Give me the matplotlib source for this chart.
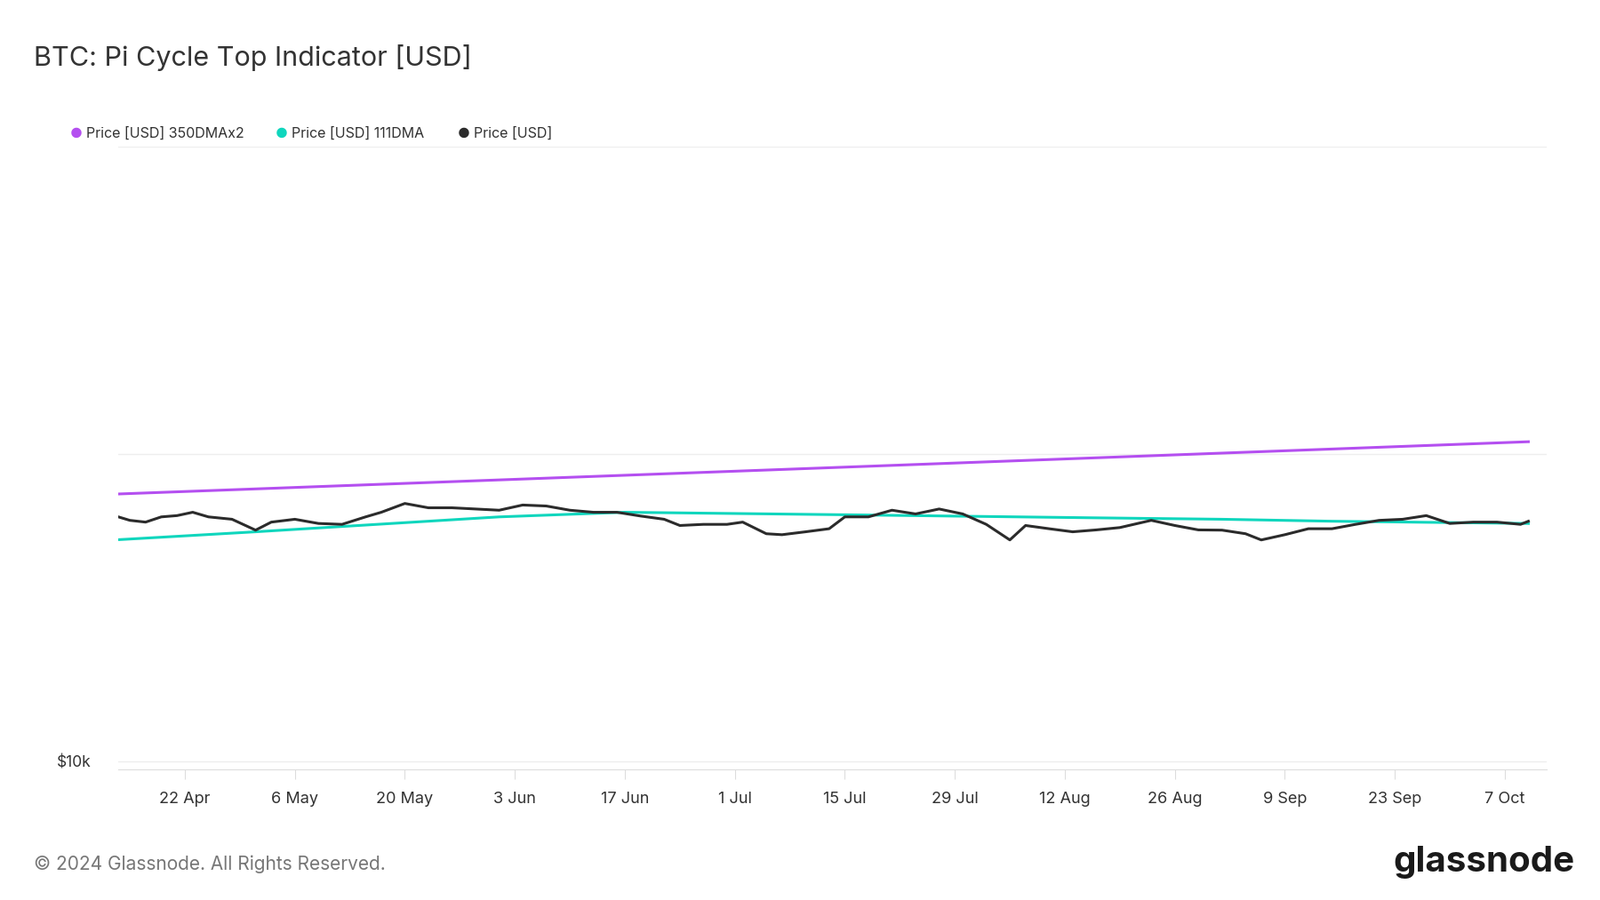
import numpy as np
import pandas as pd
import matplotlib.pyplot as plt
import matplotlib.dates as mdates

plt.rcParams['font.family'] = 'Inter'

# ── Data (USD thousands) ──
price_dates = ['2024-04-13', '2024-04-15', '2024-04-17', '2024-04-19', '2024-04-21', '2024-04-23',
               '2024-04-25', '2024-04-28', '2024-05-01', '2024-05-03', '2024-05-06', '2024-05-09',
               '2024-05-12', '2024-05-15', '2024-05-17', '2024-05-20', '2024-05-23', '2024-05-26',
               '2024-05-29', '2024-06-01', '2024-06-04', '2024-06-07', '2024-06-10', '2024-06-13',
               '2024-06-16', '2024-06-19', '2024-06-22', '2024-06-24', '2024-06-27', '2024-06-30',
               '2024-07-02', '2024-07-05', '2024-07-07', '2024-07-10', '2024-07-13', '2024-07-15',
               '2024-07-18', '2024-07-21', '2024-07-24', '2024-07-27', '2024-07-30', '2024-08-02',
               '2024-08-05', '2024-08-07', '2024-08-10', '2024-08-13', '2024-08-16', '2024-08-19',
               '2024-08-23', '2024-08-26', '2024-08-29', '2024-09-01', '2024-09-04', '2024-09-06',
               '2024-09-09', '2024-09-12', '2024-09-15', '2024-09-18', '2024-09-21', '2024-09-24',
               '2024-09-27', '2024-09-30', '2024-10-03', '2024-10-06', '2024-10-09', '2024-10-10']
price = [63.0, 60.8, 60.0, 62.4, 63.0, 64.6, 62.4, 61.3, 56.5, 60.0, 61.3, 59.4,
         59.0, 62.4, 64.6, 69.0, 66.8, 66.8, 66.2, 65.6, 68.2, 67.7, 65.6, 64.6,
         64.6, 62.8, 61.3, 58.5, 59.0, 59.0, 60.0, 55.0, 54.6, 55.8, 57.1, 62.4,
         62.4, 65.6, 63.8, 66.2, 63.8, 59.0, 52.5, 58.5, 57.1, 55.8, 56.6, 57.6,
         60.8, 58.5, 56.6, 56.5, 55.0, 52.5, 54.6, 57.1, 57.1, 59.0, 60.8, 61.3,
         63.0, 59.4, 60.0, 60.0, 59.0, 60.4]

dma111_dates = ['2024-04-13', '2024-05-01', '2024-06-01', '2024-06-17', '2024-07-15',
                '2024-08-15', '2024-09-01', '2024-09-15', '2024-10-10']
dma111 = [52.5, 55.8, 62.4, 64.6, 63.4, 62.0, 61.3, 60.4, 59.4]

dma350x2_dates = ['2024-04-13', '2024-07-12', '2024-10-10']
dma350x2 = [74.0, 90.0, 109.6]

PURPLE = '#b44ff0'
TEAL = '#0fd6bd'
DARK = '#2b2b2b'

fig = plt.figure(figsize=(18, 10.13), dpi=100)
ax = fig.add_axes([0.074, 0.145, 0.8925, 0.692])

def d(lst):
    return pd.to_datetime(lst)

ax.plot(d(dma350x2_dates), np.array(dma350x2) * 1000, color=PURPLE, lw=2.2)
ax.plot(d(dma111_dates), np.array(dma111) * 1000, color=TEAL, lw=2.2)
ax.plot(d(price_dates), np.array(price) * 1000, color=DARK, lw=2.2)

ax.set_yscale('log')
ax.set_ylim(10 ** 3.973, 1e6)
ax.set_xlim(pd.Timestamp('2024-04-13 13:00'), pd.Timestamp('2024-10-12 07:00'))
ax.set_yticks([1e4, 1e5, 1e6])
ax.set_yticklabels(['$10k', '', ''])
ax.yaxis.set_minor_locator(plt.NullLocator())
ax.grid(axis='y', color='#eeeeee', lw=1)
ax.tick_params(axis='y', length=0, labelsize=12.5, colors='#333333', pad=22)

ticks = pd.to_datetime(['2024-04-22', '2024-05-06', '2024-05-20', '2024-06-03', '2024-06-17',
                        '2024-07-01', '2024-07-15', '2024-07-29', '2024-08-12', '2024-08-26',
                        '2024-09-09', '2024-09-23', '2024-10-07'])
ax.set_xticks(ticks)
ax.xaxis.set_major_formatter(mdates.DateFormatter('%-d %b'))
ax.tick_params(axis='x', length=8, color='#dddddd', labelsize=13, colors='#333333', pad=10)
for s in ['top', 'right', 'left']:
    ax.spines[s].set_visible(False)
ax.spines['bottom'].set_color('#dddddd')

fig.text(0.021, 0.936, 'BTC: Pi Cycle Top Indicator [USD]', fontsize=22, color='#333333', va='center')

legend_items = [('Price [USD] 350DMAx2', PURPLE, 0.044), ('Price [USD] 111DMA', TEAL, 0.172),
                ('Price [USD]', DARK, 0.286)]
for label, col, x in legend_items:
    fig.text(x, 0.852, '\u25CF', color=col, fontsize=11, va='center')
    fig.text(x + 0.010, 0.852, label, color='#333333', fontsize=11.5, va='center')

fig.text(0.021, 0.04, '\u00a9 2024 Glassnode. All Rights Reserved.', fontsize=15, color='#777777', va='center')
fig.text(0.984, 0.042, 'glassnode', fontsize=29, color='#1a1a1a', ha='right', va='center', weight='bold')

fig.savefig('out.png', dpi=100, facecolor='white')
